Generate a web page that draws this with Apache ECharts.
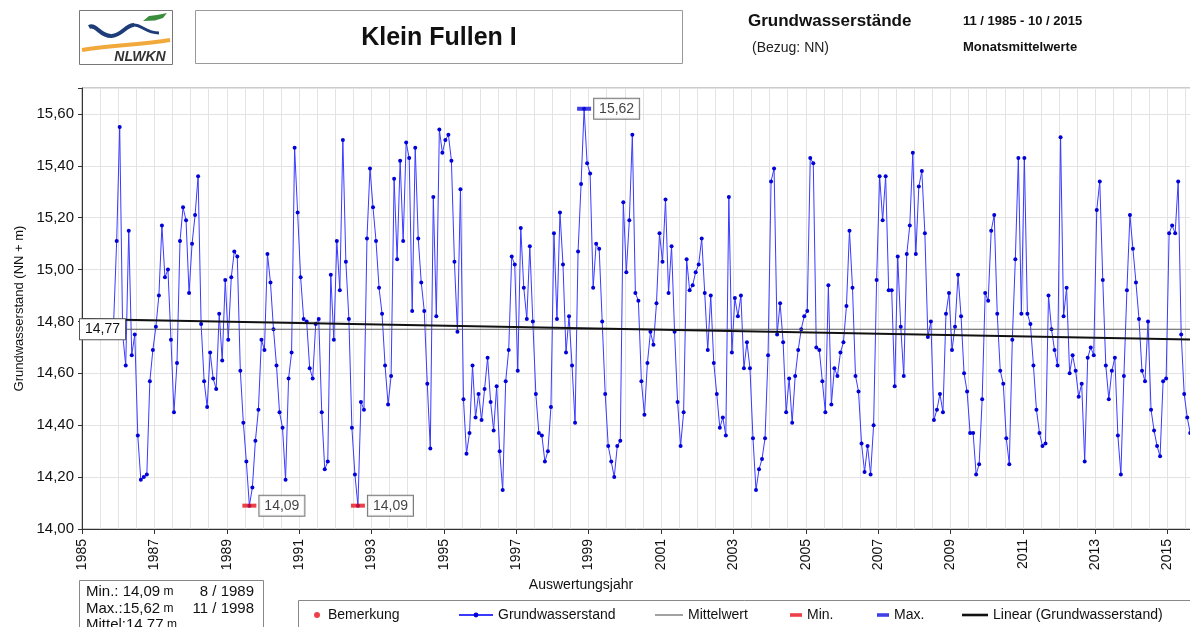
<!DOCTYPE html>
<html><head><meta charset="utf-8">
<script src="https://cdn.jsdelivr.net/npm/echarts@6/dist/echarts.min.js"></script>
<style>html,body{margin:0;padding:0;background:#fff}#chart{width:1190px;height:627px}</style>
</head><body><div id="chart"></div>
<script>
// ---------- data ----------
const stationName = 'Klein Fullen I';
const periodText = '11 / 1985 - 10 / 2015';
const startYear = 1985;
const startMonth = 11;
// monthly mean groundwater levels (NN + m), from 11/1985 (one row = Nov..Oct)
const levels = [
  14.80, 15.11, 15.55, 14.75, 14.63, 15.15, 14.67, 14.75, 14.36, 14.19, 14.20, 14.21,
  14.57, 14.69, 14.78, 14.90, 15.17, 14.97, 15.00, 14.73, 14.45, 14.64, 15.11, 15.24,
  15.19, 14.91, 15.10, 15.21, 15.36, 14.79, 14.57, 14.47, 14.68, 14.58, 14.54, 14.83,
  14.65, 14.96, 14.73, 14.97, 15.07, 15.05, 14.61, 14.41, 14.26, 14.09, 14.16, 14.34,
  14.46, 14.73, 14.69, 15.06, 14.95, 14.77, 14.63, 14.45, 14.39, 14.19, 14.58, 14.68,
  15.47, 15.22, 14.97, 14.81, 14.80, 14.62, 14.58, 14.79, 14.81, 14.45, 14.23, 14.26,
  14.98, 14.73, 15.11, 14.92, 15.50, 15.03, 14.81, 14.39, 14.21, 14.09, 14.49, 14.46,
  15.12, 15.39, 15.24, 15.11, 14.93, 14.83, 14.63, 14.48, 14.59, 15.35, 15.04, 15.42,
  15.11, 15.49, 15.43, 14.84, 15.47, 15.12, 14.95, 14.84, 14.56, 14.31, 15.28, 14.82,
  15.54, 15.45, 15.50, 15.52, 15.42, 15.03, 14.76, 15.31, 14.50, 14.29, 14.37, 14.63,
  14.43, 14.52, 14.42, 14.54, 14.66, 14.49, 14.38, 14.55, 14.30, 14.15, 14.57, 14.69,
  15.05, 15.02, 14.61, 15.16, 14.93, 14.81, 15.09, 14.80, 14.52, 14.37, 14.36, 14.26,
  14.30, 14.47, 15.14, 14.81, 15.22, 15.02, 14.68, 14.82, 14.63, 14.41, 15.07, 15.33,
  15.62, 15.41, 15.37, 14.93, 15.10, 15.08, 14.80, 14.52, 14.32, 14.26, 14.20, 14.32,
  14.34, 15.26, 14.99, 15.19, 15.52, 14.91, 14.88, 14.57, 14.44, 14.64, 14.76, 14.71,
  14.87, 15.14, 15.03, 15.27, 14.91, 15.09, 14.76, 14.49, 14.32, 14.45, 15.04, 14.92,
  14.94, 14.99, 15.02, 15.12, 14.91, 14.69, 14.90, 14.64, 14.52, 14.39, 14.43, 14.36,
  15.28, 14.68, 14.89, 14.82, 14.90, 14.62, 14.72, 14.62, 14.35, 14.15, 14.23, 14.27,
  14.35, 14.67, 15.34, 15.39, 14.75, 14.87, 14.72, 14.45, 14.58, 14.41, 14.59, 14.69,
  14.77, 14.82, 14.84, 15.43, 15.41, 14.70, 14.69, 14.57, 14.45, 14.94, 14.48, 14.62,
  14.59, 14.68, 14.72, 14.86, 15.15, 14.93, 14.59, 14.53, 14.33, 14.22, 14.32, 14.21,
  14.40, 14.96, 15.36, 15.19, 15.36, 14.92, 14.92, 14.55, 15.05, 14.78, 14.59, 15.06,
  15.17, 15.45, 15.06, 15.32, 15.38, 15.14, 14.74, 14.80, 14.42, 14.46, 14.52, 14.45,
  14.83, 14.91, 14.69, 14.78, 14.98, 14.82, 14.60, 14.53, 14.37, 14.37, 14.21, 14.25,
  14.50, 14.91, 14.88, 15.15, 15.21, 14.83, 14.61, 14.56, 14.35, 14.25, 14.73, 15.04,
  15.43, 14.83, 15.43, 14.83, 14.79, 14.63, 14.46, 14.37, 14.32, 14.33, 14.90, 14.77,
  14.69, 14.63, 15.51, 14.82, 14.93, 14.60, 14.67, 14.61, 14.51, 14.56, 14.26, 14.66,
  14.70, 14.67, 15.23, 15.34, 14.96, 14.63, 14.50, 14.61, 14.66, 14.36, 14.21, 14.59,
  14.92, 15.21, 15.08, 14.95, 14.81, 14.61, 14.57, 14.80, 14.46, 14.38, 14.32, 14.28,
  14.57, 14.58, 15.14, 15.17, 15.14, 15.34, 14.75, 14.52, 14.43, 14.37
];
const meanLevel = 14.77;
const trendLine = [[1985, 14.81], [2015.65, 14.73]];
const yTicks = [14.0, 14.2, 14.4, 14.6, 14.8, 15.0, 15.2, 15.4, 15.6];

// ---------- derived ----------
const fmt = v => v.toFixed(2).replace('.', ',');
const monthOf = i => ((startMonth - 1 + i) % 12) + 1;
const yearOf = i => startYear + Math.floor((startMonth - 1 + i) / 12);
const points = levels.map((v, i) => [startYear + (startMonth - 1 + i + 0.5) / 12, v]);
const minVal = Math.min(...levels), maxVal = Math.max(...levels);
const minIdx = levels.map((v, i) => v === minVal ? i : -1).filter(i => i >= 0);
const maxIdx = levels.map((v, i) => v === maxVal ? i : -1).filter(i => i >= 0);
const minPts = minIdx.map(i => points[i]);
const maxPts = maxIdx.map(i => points[i]);
const statsRows = [
  ['Min.: ', fmt(minVal), monthOf(minIdx[0]) + ' / ' + yearOf(minIdx[0])],
  ['Max.:', fmt(maxVal), monthOf(maxIdx[0]) + ' / ' + yearOf(maxIdx[0])],
  ['Mittel:', fmt(meanLevel), '']
];

const FF = '"Liberation Sans", Arial, sans-serif';
const chart = echarts.init(document.getElementById('chart'), null, {renderer: 'canvas'});

const labelBox = {
  show: true, position: 'right', distance: 3, formatter: p => fmt(p.value[1]),
  backgroundColor: '#fff', borderColor: '#555', borderWidth: 1, padding: [3, 5],
  fontSize: 14, color: '#111', fontFamily: FF
};

const legendBase = {top: 608, padding: 0, itemHeight: 6, selectedMode: false,
  textStyle: {fontSize: 14, color: '#111', fontFamily: FF}};

const graphics = [
  // logo
  {type: 'rect', shape: {x: 79.5, y: 10.5, width: 93, height: 54}, style: {fill: '#fff', stroke: '#777', lineWidth: 1}},
  {type: 'bezierCurve', shape: {x1: 89, y1: 27, cpx1: 96, cpy1: 23, cpx2: 100, cpy2: 37, x2: 112, y2: 36}, style: {fill: null, stroke: '#1d3c78', lineWidth: 4}},
  {type: 'bezierCurve', shape: {x1: 112, y1: 36, cpx1: 122, cpy1: 35, cpx2: 126, cpy2: 25, x2: 134, y2: 25}, style: {fill: null, stroke: '#1d3c78', lineWidth: 4}},
  {type: 'bezierCurve', shape: {x1: 134, y1: 25, cpx1: 142, cpy1: 25, cpx2: 146, cpy2: 33, x2: 159, y2: 33}, style: {fill: null, stroke: '#1d3c78', lineWidth: 3}},
  {type: 'polygon', shape: {points: [[143, 21], [149, 16], [157, 15], [167, 13], [163, 18], [155, 20.5]]}, style: {fill: '#3b8d3b'}},
  {type: 'bezierCurve', shape: {x1: 82, y1: 50, cpx1: 110, cpy1: 45, cpx2: 140, cpy2: 45, x2: 170, y2: 40}, style: {fill: null, stroke: '#f2a93b', lineWidth: 4}},
  {type: 'text', style: {text: 'NLWKN', x: 140, y: 57, fontSize: 14, fontWeight: 'bold', fontStyle: 'italic', fontFamily: FF, fill: '#333', align: 'center', verticalAlign: 'middle'}},
  // title box
  {type: 'rect', shape: {x: 195.5, y: 10.5, width: 487, height: 53}, style: {fill: '#fff', stroke: '#999', lineWidth: 1}},
  {type: 'text', style: {text: stationName, x: 439, y: 38, fontSize: 25, fontWeight: 'bold', fontFamily: FF, fill: '#111', align: 'center', verticalAlign: 'middle'}},
  {type: 'text', style: {text: 'Grundwasserstände', x: 748, y: 21, fontSize: 17, fontWeight: 'bold', fontFamily: FF, fill: '#111', align: 'left', verticalAlign: 'middle'}},
  {type: 'text', style: {text: '(Bezug: NN)', x: 752, y: 48, fontSize: 14, fontFamily: FF, fill: '#222', align: 'left', verticalAlign: 'middle'}},
  {type: 'text', style: {text: periodText, x: 963, y: 21, fontSize: 13, fontWeight: 'bold', fontFamily: FF, fill: '#111', align: 'left', verticalAlign: 'middle'}},
  {type: 'text', style: {text: 'Monatsmittelwerte', x: 963, y: 47, fontSize: 13, fontWeight: 'bold', fontFamily: FF, fill: '#111', align: 'left', verticalAlign: 'middle'}},
  // x axis title
  {type: 'text', style: {text: 'Auswertungsjahr', x: 581, y: 585, fontSize: 14, fontFamily: FF, fill: '#111', align: 'center', verticalAlign: 'middle'}},
  // stats box
  {type: 'rect', shape: {x: 79.5, y: 580.5, width: 184, height: 60}, style: {fill: '#fff', stroke: '#888', lineWidth: 1}},
  // legend box
  {type: 'rect', shape: {x: 298.5, y: 600.5, width: 920, height: 40}, style: {fill: '#fff', stroke: '#888', lineWidth: 1}}
];
statsRows.forEach((r, k) => {
  const y = 592 + k * 16.5;
  graphics.push({type: 'text', style: {text: '{a|' + r[0] + r[1] + '}{b| m}', x: 86, y: y, fontFamily: FF, fill: '#111', align: 'left', verticalAlign: 'middle',
    rich: {a: {fontSize: 15, fontFamily: FF, fill: '#111'}, b: {fontSize: 12, fontFamily: FF, fill: '#111'}}}});
  if (r[2]) graphics.push({type: 'text', style: {text: r[2], x: 254, y: y, fontSize: 15, fontFamily: FF, fill: '#111', align: 'right', verticalAlign: 'middle'}});
});

const option = {
  animation: false,
  textStyle: {fontFamily: FF},
  grid: {left: 82, top: 88, right: -50, bottom: 98, show: true, borderColor: '#999', borderWidth: 1,
    backgroundColor: '#fff', outerBoundsMode: 'none', containLabel: false},
  xAxis: {
    type: 'value', min: 1985, max: 2017, interval: 2,
    axisLine: {show: true, lineStyle: {color: '#333'}},
    axisTick: {show: true, length: 5, lineStyle: {color: '#333'}},
    axisLabel: {rotate: 90, fontSize: 14, color: '#111', margin: 10, fontFamily: FF, formatter: v => (v % 2 === 1 ? String(v) : '')},
    splitLine: {show: true, lineStyle: {color: '#e3e3e3'}},
    minorTick: {show: false, splitNumber: 4},
    minorSplitLine: {show: true, lineStyle: {color: '#e3e3e3'}}
  },
  yAxis: {
    type: 'value', min: 14, max: 15.7, interval: 0.2,
    name: 'Grundwasserstand (NN + m)', nameLocation: 'middle', nameGap: 56,
    nameTextStyle: {fontSize: 13, color: '#111', fontFamily: FF},
    axisLine: {show: true, lineStyle: {color: '#333'}},
    axisTick: {show: true, length: 4, lineStyle: {color: '#333'}},
    axisLabel: {fontSize: 15, color: '#111', margin: 8, fontFamily: FF,
      formatter: v => (yTicks.some(t => Math.abs(t - v) < 1e-6) ? fmt(v) : '')},
    splitLine: {show: true, lineStyle: {color: '#e3e3e3'}}
  },
  legend: [
    Object.assign({}, legendBase, {left: 314, itemWidth: 12, data: [{name: 'Bemerkung', icon: 'circle'}]}),
    Object.assign({}, legendBase, {left: 458, itemWidth: 34, data: [{name: 'Grundwasserstand'}]}),
    Object.assign({}, legendBase, {left: 655, itemWidth: 28, data: [{name: 'Mittelwert', icon: 'path://M0,0H28V1.2H0Z'}]}),
    Object.assign({}, legendBase, {left: 790, itemWidth: 12, data: [{name: 'Min.', icon: 'path://M0,0H10V3H0Z'}]}),
    Object.assign({}, legendBase, {left: 877, itemWidth: 12, data: [{name: 'Max.', icon: 'path://M0,0H10V3H0Z'}]}),
    Object.assign({}, legendBase, {left: 962, itemWidth: 26, data: [{name: 'Linear (Grundwasserstand)', icon: 'path://M0,0H26V2.6H0Z'}]})
  ],
  graphic: graphics,
  series: [
    {name: 'Bemerkung', type: 'scatter', data: [], itemStyle: {color: '#e8101a'}},
    {name: 'Grundwasserstand', type: 'line', data: points, symbol: 'circle', symbolSize: 4, showSymbol: true,
      lineStyle: {color: '#3a3aff', width: 1}, itemStyle: {color: '#0000d8'}, z: 2},
    {name: 'Mittelwert', type: 'line', symbol: 'circle', symbolSize: 0, showSymbol: true,
      data: [{value: [1985, meanLevel], label: {show: true, position: [-2, 0], align: 'left', verticalAlign: 'middle',
        formatter: p => fmt(p.value[1]), backgroundColor: '#fff', borderColor: '#555', borderWidth: 1, padding: [3, 5], fontSize: 14, color: '#111', fontFamily: FF}},
        [2017, meanLevel]],
      lineStyle: {color: '#555', width: 1}, itemStyle: {color: '#666'}, z: 3},
    {name: 'Linear (Grundwasserstand)', type: 'line', data: trendLine, symbol: 'none',
      lineStyle: {color: '#111', width: 2}, itemStyle: {color: '#111'}, z: 3},
    {name: 'Min.', type: 'scatter', data: minPts, symbol: 'rect', symbolSize: [14, 4],
      itemStyle: {color: '#e8101a'}, label: labelBox, z: 5},
    {name: 'Max.', type: 'scatter', data: maxPts, symbol: 'rect', symbolSize: [14, 4],
      itemStyle: {color: '#1010e0'}, label: labelBox, z: 5}
  ]
};
chart.setOption(option);
</script></body></html>
